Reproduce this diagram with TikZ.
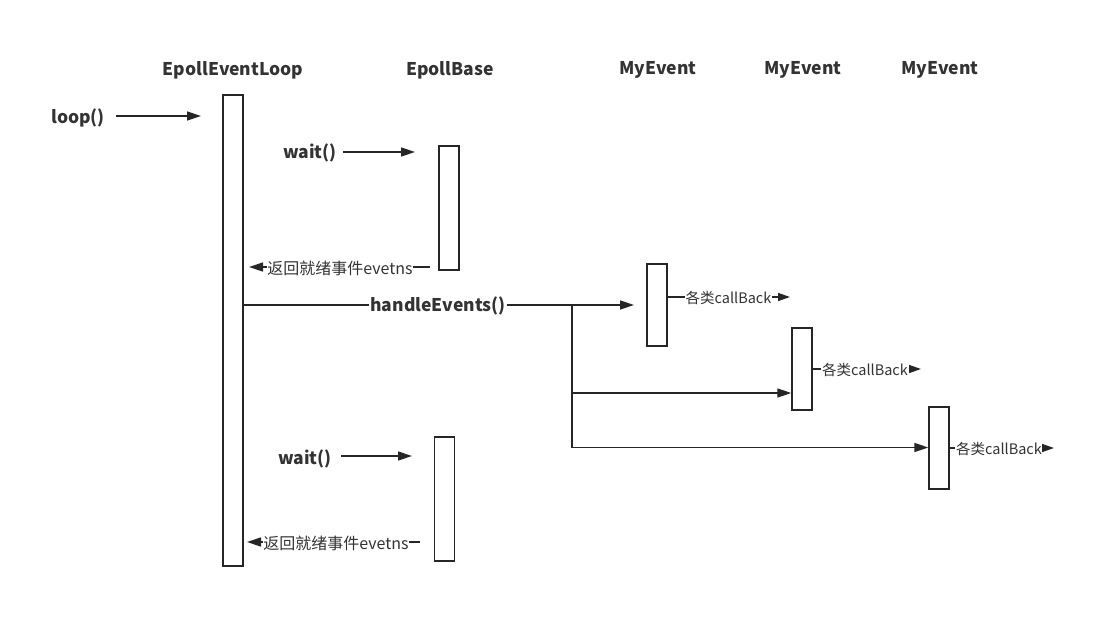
\documentclass[tikz,border=0pt]{standalone}
\usepackage{fontspec}
\setmainfont{Noto Sans CJK SC}
\usetikzlibrary{arrows.meta}
\begin{document}
\begin{tikzpicture}[x=1pt,y=-1pt,
  title/.style={font=\fontsize{17.5}{20}\selectfont\bfseries,text=black!80},
  blabel/.style={font=\fontsize{17.5}{20}\selectfont\bfseries,text=black!80,inner sep=1pt},
  slabel/.style={font=\fontsize{16}{18}\selectfont,text=black!80,inner sep=0.5pt},
  cblabel/.style={font=\fontsize{14.5}{17}\selectfont,text=black!80,inner sep=0.5pt},
  act/.style={draw=black!85,line width=1.4pt,fill=white,inner sep=0pt,minimum width=20pt},
  msg/.style={draw=black!85,line width=1.4pt,-{Triangle[length=14pt,width=9pt]}},
  cb/.style={draw=black!85,line width=1.4pt,-{Triangle[length=12pt,width=8pt]}},
  ln/.style={draw=black!85,line width=1.4pt}]
\useasboundingbox (0,0) rectangle (1112,629);
% titles
\node[title] (t1) at (233,70) {EpollEventLoop};
\node[title] (t2) at (450,70) {EpollBase};
\node[title] (t3) at (658,70) {MyEvent};
\node[title] (t4) at (803,70) {MyEvent};
\node[title] (t5) at (940,70) {MyEvent};
% activation boxes
\node[act,minimum height=471pt] (L) at (233,330.5) {};
\node[act,minimum height=124pt] (B1) at (449,208) {};
\node[act,minimum height=124pt] (B2) at (444.5,499) {};
\node[act,minimum height=82pt] (E1) at (657,305) {};
\node[act,minimum height=82pt] (E2) at (802,369) {};
\node[act,minimum height=82pt] (E3) at (939,448) {};
% loop
\node[blabel] (loop) at (78,118) {loop()};
\coordinate (loopS) at (116,116);
\coordinate (loopE) at (201,116);
\draw[msg] (loopS) -- (loopE);
% wait 1
\node[blabel] (w1) at (310,153) {wait()};
\coordinate (w1S) at (343,152);
\coordinate (w1E) at (415,152);
\draw[msg] (w1S) -- (w1E);
% return 1
\coordinate (r1S) at (430,267);
\coordinate (r1E) at (249,267);
\node[slabel] (r1) at (340,268) {返回就绪事件evetns};
\draw[ln] (r1S) -- (r1.east |- r1S);
\draw[msg] (r1.west |- r1E) -- (r1E);
% handleEvents
\coordinate (hE) at (634,305);
\node[blabel] (h) at (438,306) {handleEvents()};
\draw[ln] (L.east |- hE) -- (h.west |- hE);
\draw[msg] (h.east |- hE) -- (hE);
\coordinate (br) at (572,305);
\coordinate (br2) at (572,393);
\coordinate (br3) at (572,447.5);
\draw[ln] (br) -- (br3);
\draw[msg] (br2) -- (E2.west |- br2);
\draw[msg] (br3) -- (E3.west |- br3);
% callbacks
\coordinate (c1E) at (790,297);
\node[cblabel] (c1) at (728.5,298) {各类callBack};
\draw[ln] (E1.east |- c1E) -- (c1.west |- c1E);
\draw[cb] (c1.east |- c1E) -- (c1E);
\coordinate (c2E) at (921,369);
\node[cblabel] (c2) at (865,370) {各类callBack};
\draw[ln] (E2.east |- c2E) -- (c2.west |- c2E);
\draw[cb] (c2.east |- c2E) -- (c2E);
\coordinate (c3E) at (1054,448);
\node[cblabel] (c3) at (999,449) {各类callBack};
\draw[ln] (E3.east |- c3E) -- (c3.west |- c3E);
\draw[cb] (c3.east |- c3E) -- (c3E);
% wait 2
\node[blabel] (w2) at (305,459) {wait()};
\coordinate (w2S) at (341,456);
\coordinate (w2E) at (412,456);
\draw[msg] (w2S) -- (w2E);
% return 2
\coordinate (r2S) at (420,542);
\coordinate (r2E) at (247,542);
\node[slabel] (r2) at (336,543) {返回就绪事件evetns};
\draw[ln] (r2S) -- (r2.east |- r2S);
\draw[msg] (r2.west |- r2E) -- (r2E);
\end{tikzpicture}
\end{document}
